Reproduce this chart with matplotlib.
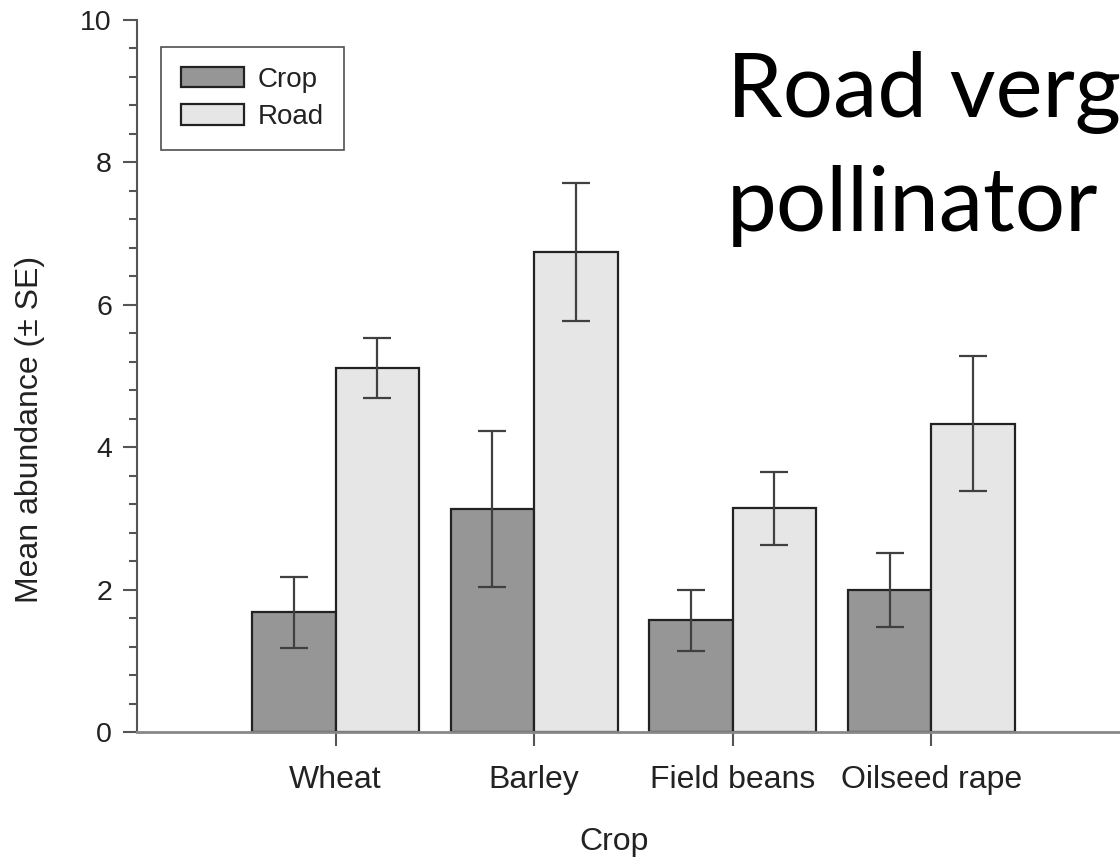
import numpy as np
import matplotlib.pyplot as plt
from matplotlib.ticker import MultipleLocator

# mean abundance per crop type, crop edge vs road verge
crops = ['Wheat', 'Barley', 'Field beans', 'Oilseed rape']
crop_mean = [1.68, 3.13, 1.57, 2.00]
crop_se = [0.50, 1.10, 0.43, 0.52]
road_mean = [5.11, 6.74, 3.14, 4.33]
road_se = [0.42, 0.97, 0.51, 0.95]

plt.rcParams['font.family'] = ['Liberation Sans', 'DejaVu Sans']

fig = plt.figure(figsize=(11.2, 8.59), dpi=100)
ax = fig.add_axes([137/1120, 1 - 732/859, 1 - 137/1120, (732 - 20)/859])

x = np.arange(len(crops))
w = 0.42
err_kw = dict(ecolor='#404040', elinewidth=1.6, capsize=10, capthick=1.6)
ax.bar(x - w/2, crop_mean, w, yerr=crop_se, color='#969696',
       edgecolor='#222222', linewidth=1.6, label='Crop', error_kw=err_kw)
ax.bar(x + w/2, road_mean, w, yerr=road_se, color='#e6e6e6',
       edgecolor='#222222', linewidth=1.6, label='Road', error_kw=err_kw)

ax.set_xlim(-1.0, 3.95)
ax.set_ylim(0, 10)
ax.set_xticks(x)
ax.set_xticklabels(crops)
ax.yaxis.set_major_locator(MultipleLocator(2))
ax.yaxis.set_minor_locator(MultipleLocator(0.4))

for s in ['top', 'right']:
    ax.spines[s].set_visible(False)
ax.spines['left'].set_color('#555555')
ax.spines['bottom'].set_color('#888888')
ax.spines['left'].set_linewidth(1.5)
ax.spines['bottom'].set_linewidth(2)

ax.tick_params(axis='y', which='major', length=10, width=1.5, color='#555555',
               labelsize=20.5, pad=8, labelcolor='#222222')
ax.tick_params(axis='y', which='minor', length=6, width=1.5, color='#555555')
ax.tick_params(axis='x', length=10, width=1.5, color='#555555',
               labelsize=23, pad=14, labelcolor='#222222')

ax.set_ylabel('Mean abundance (± SE)', fontsize=23, color='#222222')
ax.yaxis.set_label_coords(-0.094, (732 - 429)/712)
ax.set_xlabel('Crop', fontsize=23, color='#222222')
ax.xaxis.set_label_coords((614 - 137)/983, -0.1335)

leg = ax.legend(loc='upper left', bbox_to_anchor=(24/983, 1 - 27/712),
                fontsize=20, frameon=True, fancybox=False, edgecolor='#222222',
                handlelength=2.27, handleheight=0.75, borderpad=0.72,
                labelspacing=0.4, handletextpad=0.5, borderaxespad=0)
leg.get_frame().set_linewidth(1.2)
for t in leg.get_texts():
    t.set_color('#222222')

# heading, two lines, running off the right edge
title_font = dict(fontsize=64, family=['Lato', 'DejaVu Sans'], va='baseline',
                  ha='left', color='black')
fig.text(727/1120, 1 - 117/859, 'Road verge', **title_font)
fig.text(727/1120, 1 - 231/859, 'pollinator', **title_font)

fig.savefig('out.png', dpi=100, facecolor='white')
